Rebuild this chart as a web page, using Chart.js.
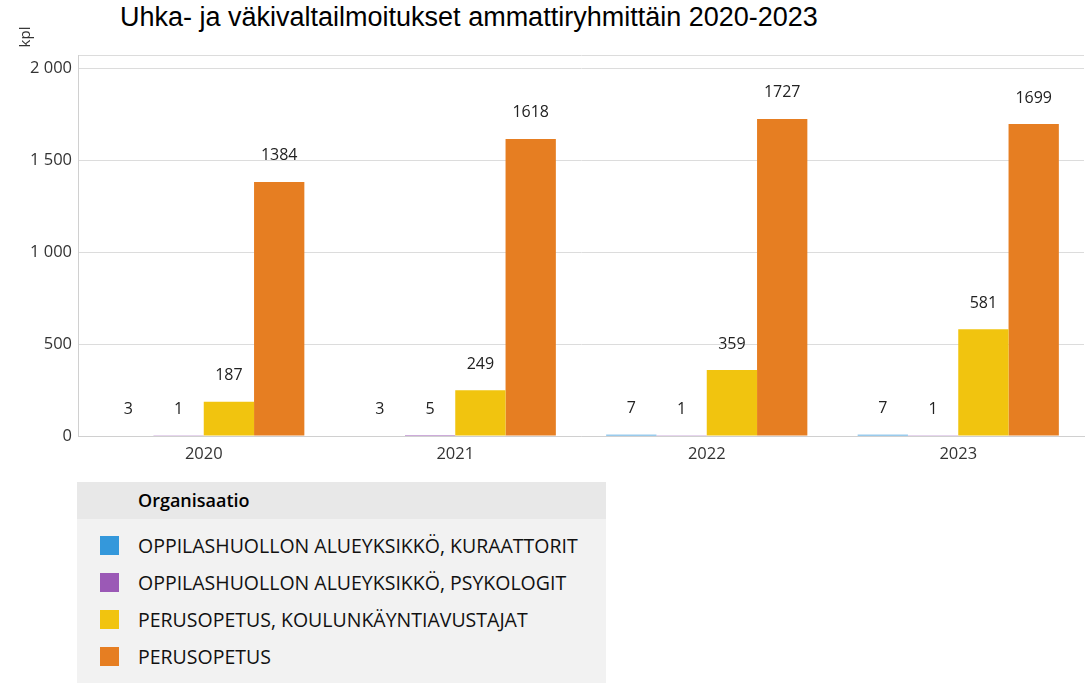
<!DOCTYPE html>
<html>
<head>
<meta charset="utf-8">
<script src="https://cdn.jsdelivr.net/npm/chart.js@4/dist/chart.umd.min.js"></script>
<style>
  body { margin: 0; background: #fff; width: 1089px; height: 683px; position: relative; overflow: hidden; font-family: "Open Sans", sans-serif; }
  #title { position: absolute; left: 120px; top: 2px; font-family: "Liberation Sans", Arial, sans-serif; font-size: 27px; color: #000; white-space: nowrap; }
  #wrap { position: absolute; left: 0; top: 0; width: 1089px; height: 470px; }
  #legend { position: absolute; left: 77px; top: 482px; width: 529px; height: 201px; background: #f2f2f2; }
  #legend .head { height: 37px; background: #e8e8e8; padding-left: 61px; line-height: 36px; font-size: 18px; font-weight: 600; color: #000; }
  #legend .item { position: relative; height: 37px; line-height: 37px; padding-left: 61px; font-size: 19.5px; color: #111; white-space: nowrap; }
  #legend .item span { position: absolute; left: 23px; top: 9px; width: 19px; height: 19px; }
  #legend .items { padding-top: 8px; }
</style>
</head>
<body>
<div id="title">Uhka- ja väkivaltailmoitukset ammattiryhmittäin 2020-2023</div>
<div id="wrap"><canvas id="chart"></canvas></div>
<div id="legend">
  <div class="head">Organisaatio</div>
  <div class="items" id="legendItems"></div>
</div>
<script>
  var years = ['2020', '2021', '2022', '2023'];
  var seriesNames = [
    'OPPILASHUOLLON ALUEYKSIKKÖ, KURAATTORIT',
    'OPPILASHUOLLON ALUEYKSIKKÖ, PSYKOLOGIT',
    'PERUSOPETUS, KOULUNKÄYNTIAVUSTAJAT',
    'PERUSOPETUS'
  ];
  var kuraattorit = [3, 3, 7, 7];
  var psykologit = [1, 5, 1, 1];
  var avustajat = [187, 249, 359, 581];
  var perusopetus = [1384, 1618, 1727, 1699];
  var yTicks = [0, 500, 1000, 1500, 2000];
  var colors = ['#3498db', '#9b59b6', '#f1c40f', '#e67e22'];

  var allValues = [kuraattorit, psykologit, avustajat, perusopetus];
  var datasets = [];
  for (var i = 0; i < seriesNames.length; i++) {
    datasets.push({
      label: seriesNames[i],
      data: allValues[i],
      backgroundColor: colors[i],
      borderWidth: 0,
      categoryPercentage: 0.8,
      barPercentage: 1.0
    });
  }

  // legend (html)
  var legendBox = document.getElementById('legendItems');
  seriesNames.forEach(function (name, idx) {
    var row = document.createElement('div');
    row.className = 'item';
    row.innerHTML = '<span style="background:' + colors[idx] + '"></span>' + name;
    legendBox.appendChild(row);
  });

  function fmt(v) {
    return String(v).replace(/\B(?=(\d{3})+(?!\d))/g, ' ');
  }

  // values above bars + "kpl" unit
  var labelPlugin = {
    id: 'valueLabels',
    afterDatasetsDraw: function (chart) {
      var ctx = chart.ctx;
      ctx.save();
      ctx.font = '16px "Open Sans"';
      ctx.fillStyle = '#222';
      ctx.textAlign = 'center';
      ctx.textBaseline = 'middle';
      chart.data.datasets.forEach(function (ds, di) {
        var meta = chart.getDatasetMeta(di);
        meta.data.forEach(function (bar, j) {
          ctx.fillText(String(ds.data[j]), bar.x, bar.y - 26);
        });
      });
      ctx.translate(26, 37);
      ctx.rotate(-Math.PI / 2);
      ctx.font = '15px "Open Sans"';
      ctx.fillStyle = '#333';
      ctx.fillText('kpl', 0, 0);
      ctx.restore();
    }
  };

  new Chart(document.getElementById('chart'), {
    type: 'bar',
    data: { labels: years, datasets: datasets },
    options: {
      responsive: true,
      maintainAspectRatio: false,
      animation: false,
      layout: { padding: { left: 0, top: 55, right: 5, bottom: 0 } },
      plugins: {
        legend: { display: false },
        tooltip: { enabled: false }
      },
      scales: {
        x: {
          grid: { display: false },
          border: { display: true, color: '#d0d0d0' },
          ticks: { color: '#333', font: { family: 'Open Sans', size: 16.5 }, padding: 0 },
          afterFit: function (scale) { scale.height = 34; }
        },
        y: {
          min: 0,
          max: 2075,
          afterBuildTicks: function (scale) {
            var t = yTicks.map(function (v) { return { value: v }; });
            t.push({ value: 2075 });
            scale.ticks = t;
          },
          grid: { color: '#dcdcdc', drawTicks: false },
          border: { display: true, color: '#d0d0d0' },
          ticks: {
            color: '#333',
            padding: 6,
            font: { family: 'Open Sans', size: 16.5 },
            callback: function (v) { return v > 2000 ? '' : fmt(v); }
          },
          afterFit: function (scale) { scale.width = 78; }
        }
      }
    },
    plugins: [labelPlugin]
  });
</script>
</body>
</html>
